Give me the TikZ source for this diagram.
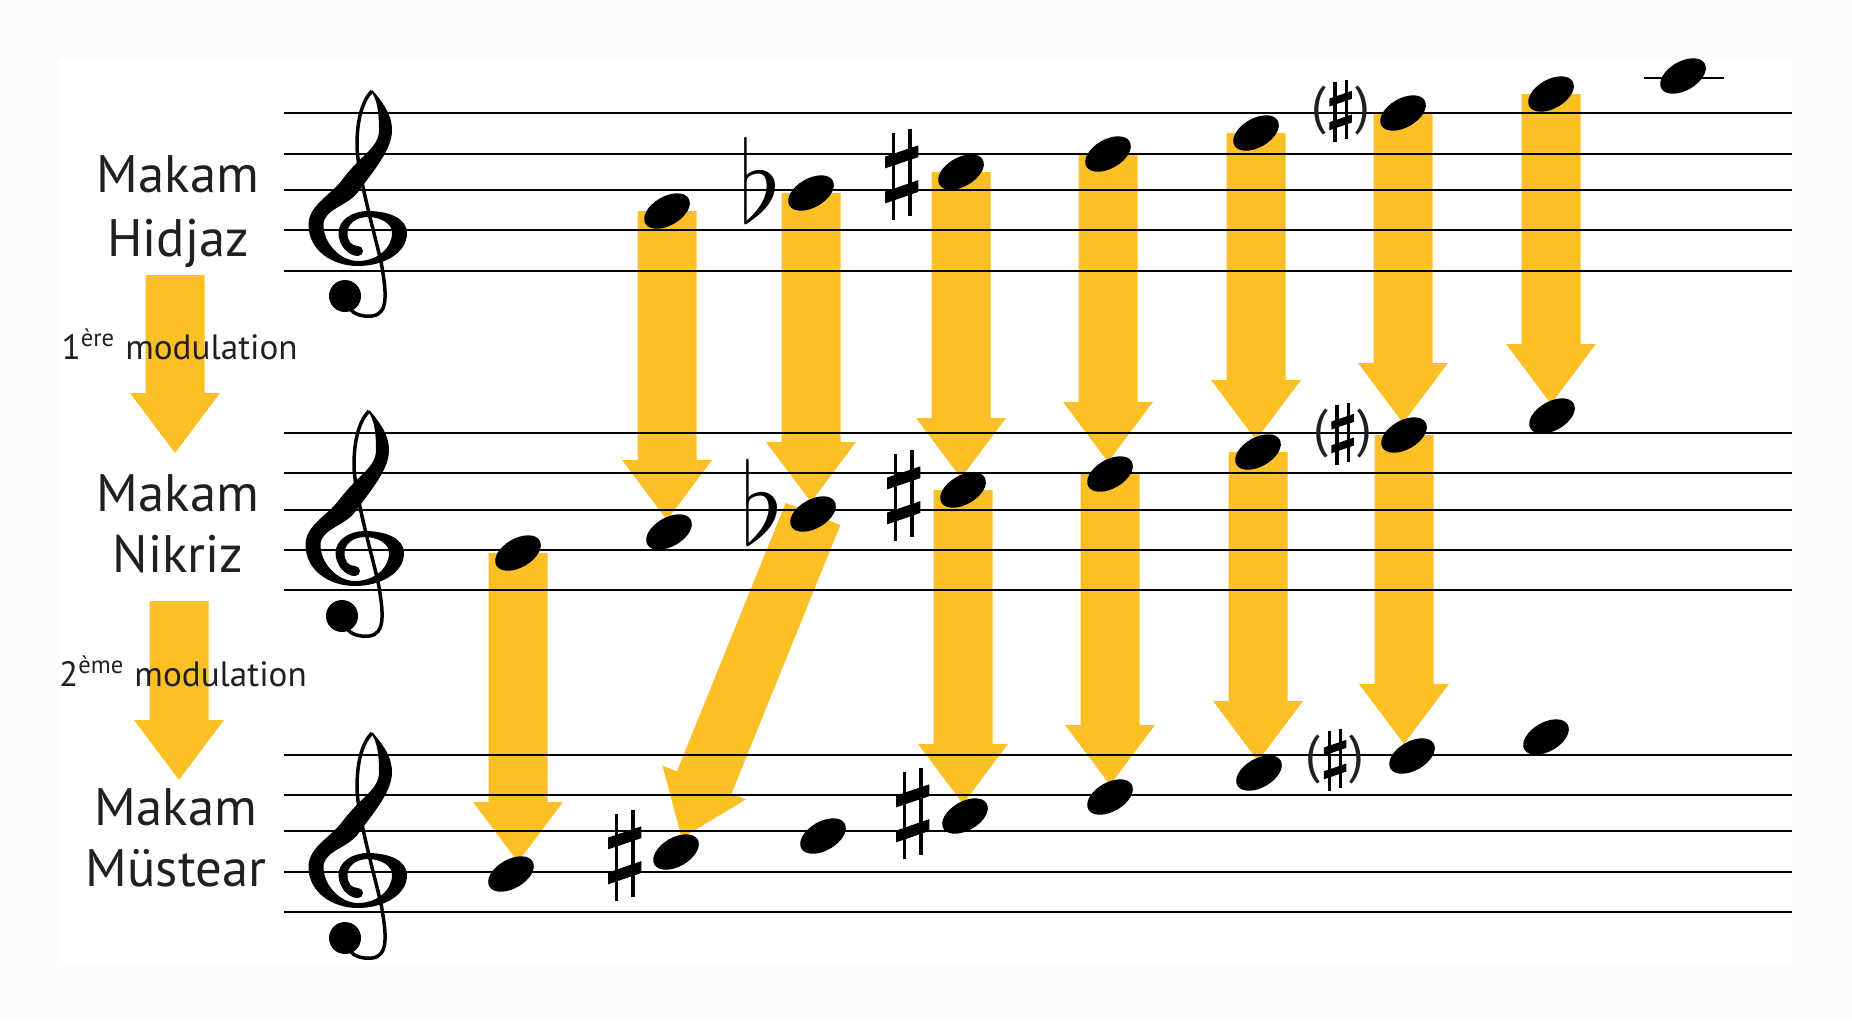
\documentclass[tikz,border=0pt]{standalone}
\usepackage{fontspec}
\setmainfont{PT Sans}
\usepackage{xcolor}
\usetikzlibrary{calc,shapes.geometric}
\definecolor{arrowyellow}{RGB}{251,192,38}
\definecolor{papercol}{RGB}{253,251,251}
\definecolor{inkcol}{RGB}{35,31,32}
\pgfdeclarelayer{paper}
\pgfdeclarelayer{arrows}
\pgfsetlayers{paper,arrows,main}
\tikzset{staffline/.style={line width=0.2mm,black}}
\tikzset{note/.style={ellipse,fill=black,inner sep=0pt,minimum width=5mm,minimum height=2.9mm,rotate=30}}
\tikzset{makam/.style={anchor=base,inner sep=0pt,text=inkcol,font=\fontsize{15}{18}\selectfont}}
\tikzset{modtext/.style={anchor=base west,inner sep=0pt,text=inkcol,font=\fontsize{10}{12}\selectfont}}
\tikzset{flatsign/.style={inner sep=0pt,font=\Huge,scale=1.3}}
\tikzset{optsharp/.style={inner sep=0pt,text=inkcol,font=\fontsize{15}{17}\selectfont}}
% sharp sign, drawn round its centre
\tikzset{sharp/.pic={
  \draw[line width=0.33mm] (-8.2,-42) -- (-8.2,45) (8.5,-46) -- (8.5,41);
  \fill (-16.5,-6.6) -- (16.8,-17.9) -- (16.8,-29.7) -- (-16.5,-18.4) -- cycle;
  \fill (-16.5,28.4) -- (16.8,16.9) -- (16.8,5.1) -- (-16.5,16.6) -- cycle;}}

% yellow block arrow, from #2 to just before #3
\newcommand{\modarrow}[3][1.2mm]{%
  \coordinate (tip) at ($(#3)!#1!(#2)$);
  \coordinate (base) at ($(tip)!6mm!(#2)$);
  \fill[arrowyellow] ($(#2)!2.95mm!90:(tip)$) -- ($(base)!2.95mm!90:(tip)$)
    -- ($(base)!4.5mm!90:(tip)$) -- (tip) -- ($(base)!4.5mm!-90:(tip)$)
    -- ($(base)!2.95mm!-90:(tip)$) -- ($(#2)!2.95mm!-90:(tip)$) -- cycle;}

% treble clef, (#1,#2) is the point on the G line
\newcommand{\gclef}[2]{%
  \begin{scope}[shift={(#1,#2)}]
    \fill (18,16) .. controls (11,16) and (7.5,11) .. (7.5,3)
      .. controls (7.5,-6) and (16,-13) .. (28,-13)
      .. controls (40,-13) and (52,-7) .. (52,3)
      .. controls (52,19) and (36,31) .. (18,31)
      .. controls (0,31) and (-16.5,13) .. (-16.5,-5)
      .. controls (-16.5,-21) and (7.2,-23.6) .. (18,-38)
      .. controls (37.8,-64.4) and (52,-82) .. (52,-100)
      .. controls (52,-118) and (38.8,-131.6) .. (32.8,-139.6)
      -- (31.2,-138.4)
      .. controls (37.2,-130.4) and (39,-118) .. (39,-100)
      .. controls (39,-82) and (21.8,-76.4) .. (2,-50)
      .. controls (-10,-34) and (-31.5,-25) .. (-31.5,-5)
      .. controls (-31.5,20) and (-8,36) .. (18,36)
      .. controls (42,36) and (67,24) .. (67,3)
      .. controls (67,-12) and (48,-19) .. (28,-19)
      .. controls (12,-19) and (-1.5,-10) .. (-1.5,3)
      .. controls (-1.5,15) and (8,26) .. (18,26) -- cycle;
    \fill (18,21) circle[radius=5];
    \draw[line width=0.35mm] (32,-139) .. controls (23,-130) and (17,-112) .. (17,-85)
      .. controls (17,-55) and (38,15) .. (42,37)
      .. controls (46,62) and (49,84) .. (32,86)
      .. controls (22,87) and (14,84) .. (10,79);
    \fill (5,66) circle[radius=16];
  \end{scope}}

\begin{document}
\begin{tikzpicture}[x=0.1mm,y=-0.1mm]
  \useasboundingbox (0,0) rectangle (1852,1020);
  \begin{pgfonlayer}{paper}
    \fill[papercol] (0,0) rectangle (1852,1020);
    \fill[white] (58.5,59) rectangle (1792,962);
  \end{pgfonlayer}

  % draw the staves
  \foreach \y in {113,154,190,230,271,433,473,510,550,590,755,795,831,872,912}
    \draw[staffline] (284,\y) -- (1792,\y);
  \draw[staffline] (1644,78) -- (1724,78);

  % clefs
  \gclef{340}{230}
  \gclef{337}{550}
  \gclef{340}{872}

  % notes of the three makams
  \foreach \n/\x/\y in {H1/667/211,H2/811/193,H3/961/172,H4/1108/154,H5/1256/133,H6/1403/113,H7/1551/94,H8/1683/76,
      N1/518/553,N2/669/532,N3/813/514,N4/963/490,N5/1110/474,N6/1258/452,N7/1404/435,N8/1552/416,
      M1/511/874,M2/676/852,M3/823/836,M4/965/816,M5/1110/797,M6/1259/773,M7/1412/756,M8/1546/737}
    \node[note] (\n) at (\x,\y) {};

  % accidentals
  \node[flatsign] (fH2) at (760.5,179.5) {$\flat$};
  \node[flatsign] (fN3) at (762.5,502) {$\flat$};
  \pic (sH3) at (901.5,175) {sharp};
  \pic (sN4) at (903.5,496) {sharp};
  \pic (sM2) at (624.5,856) {sharp};
  \pic (sM4) at (912.5,814) {sharp};
  \node[optsharp] (oH6) at (1340.5,111) {(\hspace{2.9mm})};
  \node[optsharp] (oN7) at (1342.5,434) {(\hspace{2.9mm})};
  \node[optsharp] (oM7) at (1335,760) {(\hspace{2.9mm})};
  \pic[scale=0.68] at (oH6) {sharp};
  \pic[scale=0.68] at (oN7) {sharp};
  \pic[scale=0.68] at (oM7) {sharp};

  % the modulation arrows
  \coordinate (m1top) at (175,275);
  \coordinate (m1end) at (175,453);
  \coordinate (m2top) at (179,601);
  \coordinate (m2end) at (179,780);
  \begin{pgfonlayer}{arrows}
    \modarrow[0mm]{m1top}{m1end}
    \modarrow[0mm]{m2top}{m2end}
    \foreach \a/\b in {H1/N2,H2/N3,H3/N4,H4/N5,H5/N6,H6/N7,H7/N8,N1/M1,N4/M4,N5/M5,N6/M6,N7/M7}
      {\modarrow{\a.center}{\a.center|-\b.center}}
    \modarrow[1.5mm]{N3.center}{M2.center}
  \end{pgfonlayer}

  % labels
  \node[makam] (mk1) at (178,192) {Makam};
  \node[makam] (hidjaz) at (178,256) {Hidjaz};
  \node[makam] (mk2) at (178,511) {Makam};
  \node[makam] (nikriz) at (178,572) {Nikriz};
  \node[makam] (mk3) at (176,825) {Makam};
  \node[makam] (mustear) at (176,886) {Müstear};
  \node[modtext] (mod1) at (61,359) {1\textsuperscript{ère} modulation};
  \node[modtext] (mod2) at (58.5,686) {2\textsuperscript{ème} modulation};
\end{tikzpicture}
\end{document}
